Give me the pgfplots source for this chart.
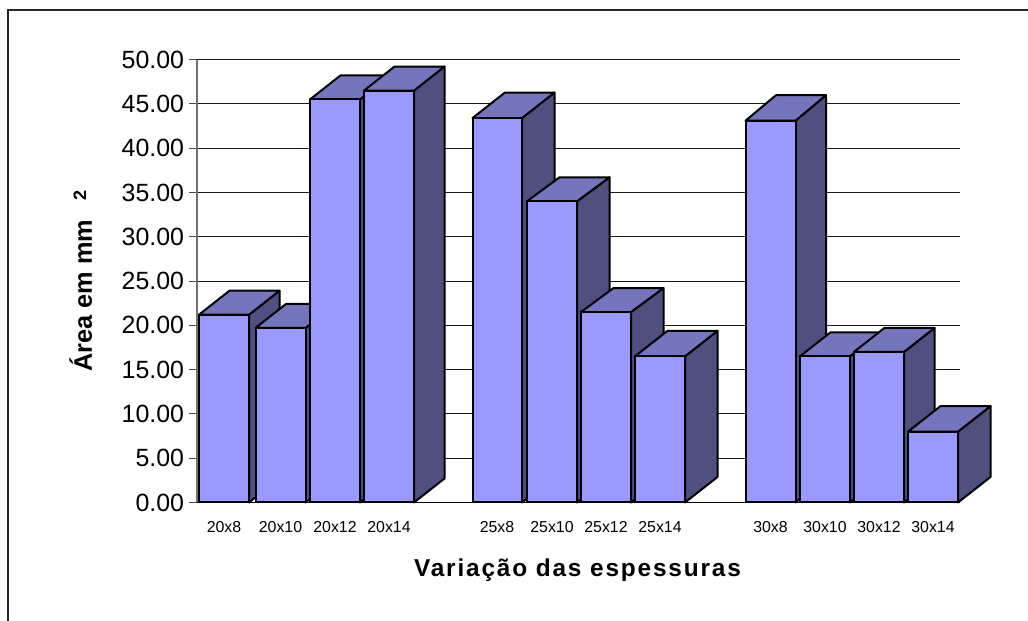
\documentclass[border=0pt]{standalone}
\usepackage{pgfplots}
\pgfplotsset{compat=1.18}
\usepackage{fontspec}
\setmainfont{Liberation Sans}
\newfontfamily\titlefont[LetterSpace=7.5]{Liberation Sans}
\definecolor{barfront}{HTML}{9999FF}
\definecolor{bartop}{HTML}{7575BD}
\definecolor{barside}{HTML}{4F4F80}
\tikzset{
  fr/.style={fill=barfront,draw=black,line width=1.5pt,line join=round},
  tp/.style={fill=bartop,draw=black,line width=1.5pt,line join=round},
  sd/.style={fill=barside,draw=black,line width=1.5pt,line join=round},
}
\begin{document}
\begin{tikzpicture}
\path[use as bounding box] (0,0) rectangle (771pt,465.75pt);
\draw[line width=1pt,black!85] (6pt,0pt) -- (6pt,458.25pt) -- (771pt,458.25pt);
\begin{axis}[
  at={(147.75pt,88.875pt)},anchor=south west,
  scale only axis,
  width=572.25pt,height=332.2pt,
  xmin=197,xmax=960,ymin=0,ymax=50,
  clip=false,
  axis lines*=left,
  axis line style={-},
  y axis line style={draw=black!55,line width=1pt},
  x axis line style={draw=black,line width=.75pt},
  ymajorgrids,
  grid style={black!90,line width=.75pt},
  ytick={0,5,...,50},
  xtick={224,280.5,335,389,497,552,606,660,770.5,825,879,933},
  xticklabels={20x8,20x10,20x12,20x14,25x8,25x10,25x12,25x14,30x8,30x10,30x12,30x14},
  tick align=outside,
  major tick length=6pt,
  xtick style={draw=none},
  ytick style={draw=black!70,line width=.75pt},
  y tick label style={font=\fontsize{18.7pt}{20pt}\selectfont,inner sep=0pt,xshift=-3.5pt,
    /pgf/number format/fixed,/pgf/number format/zerofill,/pgf/number format/precision=2,
    /pgf/number format/assume math mode=true},
  x tick label style={font=\fontsize{11.9pt}{13pt}\selectfont,anchor=base,inner sep=0pt,yshift=-16.8pt},
  xlabel={\titlefont\bfseries Variação das espessuras},
  xlabel style={at={(axis cs:577.5,-8.3)},anchor=base,inner sep=0pt,font=\fontsize{18.3pt}{20pt}\selectfont},
  ylabel={\bfseries Área em mm},
  ylabel style={at={(axis cs:92,14.73)},anchor=base west,inner sep=0pt,font=\fontsize{19pt}{20pt}\selectfont},
]
% 20 x ...
\addplot[sd] coordinates {(249,0) (279.5,2.71) (279.5,23.91) (249,21.2)} --cycle;
\addplot[tp] coordinates {(199,21.2) (229.5,23.91) (279.5,23.91) (249,21.2)} --cycle;
\addplot[fr] coordinates {(199,0) (199,21.2) (249,21.2) (249,0)} --cycle;
\addplot[sd] coordinates {(305.5,0) (336,2.71) (336,22.41) (305.5,19.7)} --cycle;
\addplot[tp] coordinates {(255.5,19.7) (286,22.41) (336,22.41) (305.5,19.7)} --cycle;
\addplot[fr] coordinates {(255.5,0) (255.5,19.7) (305.5,19.7) (305.5,0)} --cycle;
\addplot[sd] coordinates {(360,0) (390.5,2.71) (390.5,48.21) (360,45.5)} --cycle;
\addplot[tp] coordinates {(310,45.5) (340.5,48.21) (390.5,48.21) (360,45.5)} --cycle;
\addplot[fr] coordinates {(310,0) (310,45.5) (360,45.5) (360,0)} --cycle;
\addplot[sd] coordinates {(414,0) (444.5,2.71) (444.5,49.21) (414,46.5)} --cycle;
\addplot[tp] coordinates {(364,46.5) (394.5,49.21) (444.5,49.21) (414,46.5)} --cycle;
\addplot[fr] coordinates {(364,0) (364,46.5) (414,46.5) (414,0)} --cycle;
% 25 x ...
\addplot[sd] coordinates {(522,0) (554.5,2.88) (554.5,46.28) (522,43.4)} --cycle;
\addplot[tp] coordinates {(472.5,43.4) (505,46.28) (554.5,46.28) (522,43.4)} --cycle;
\addplot[fr] coordinates {(472.5,0) (472.5,43.4) (522,43.4) (522,0)} --cycle;
\addplot[sd] coordinates {(577,0) (609.5,2.71) (609.5,36.71) (577,34.0)} --cycle;
\addplot[tp] coordinates {(527,34.0) (559.5,36.71) (609.5,36.71) (577,34.0)} --cycle;
\addplot[fr] coordinates {(527,0) (527,34.0) (577,34.0) (577,0)} --cycle;
\addplot[sd] coordinates {(631,0) (663.5,2.71) (663.5,24.21) (631,21.5)} --cycle;
\addplot[tp] coordinates {(581,21.5) (613.5,24.21) (663.5,24.21) (631,21.5)} --cycle;
\addplot[fr] coordinates {(581,0) (581,21.5) (631,21.5) (631,0)} --cycle;
\addplot[sd] coordinates {(685,0) (717.5,2.88) (717.5,19.38) (685,16.5)} --cycle;
\addplot[tp] coordinates {(635,16.5) (667.5,19.38) (717.5,19.38) (685,16.5)} --cycle;
\addplot[fr] coordinates {(635,0) (635,16.5) (685,16.5) (685,0)} --cycle;
% 30 x ...
\addplot[sd] coordinates {(795.5,0) (826,2.88) (826,45.98) (795.5,43.1)} --cycle;
\addplot[tp] coordinates {(745.5,43.1) (776,45.98) (826,45.98) (795.5,43.1)} --cycle;
\addplot[fr] coordinates {(745.5,0) (745.5,43.1) (795.5,43.1) (795.5,0)} --cycle;
\addplot[sd] coordinates {(850,0) (880.5,2.71) (880.5,19.21) (850,16.5)} --cycle;
\addplot[tp] coordinates {(800,16.5) (830.5,19.21) (880.5,19.21) (850,16.5)} --cycle;
\addplot[fr] coordinates {(800,0) (800,16.5) (850,16.5) (850,0)} --cycle;
\addplot[sd] coordinates {(904,0) (934.5,2.71) (934.5,19.71) (904,17.0)} --cycle;
\addplot[tp] coordinates {(854,17.0) (884.5,19.71) (934.5,19.71) (904,17.0)} --cycle;
\addplot[fr] coordinates {(854,0) (854,17.0) (904,17.0) (904,0)} --cycle;
\addplot[sd] coordinates {(958,0) (990.5,2.88) (990.5,10.88) (958,8.0)} --cycle;
\addplot[tp] coordinates {(908,8.0) (940.5,10.88) (990.5,10.88) (958,8.0)} --cycle;
\addplot[fr] coordinates {(908,0) (908,8.0) (958,8.0) (958,0)} --cycle;
\end{axis}
\node[rotate=90,anchor=base west,inner sep=0pt,font=\fontsize{13.5pt}{14pt}\selectfont\bfseries] at (64.5pt,315.5pt) {2};
\end{tikzpicture}
\end{document}
